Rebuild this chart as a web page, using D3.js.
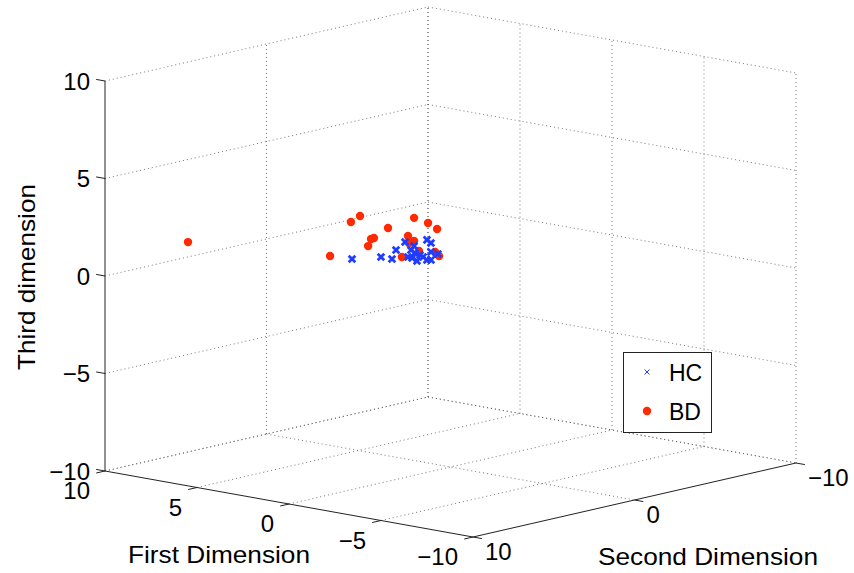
<!DOCTYPE html>
<html><head><meta charset="utf-8">
<script src="https://cdn.jsdelivr.net/npm/d3@7"></script>
<style>body{margin:0;background:#fff;} svg{display:block;} text{font-family:"Liberation Sans",Arial,Helvetica,sans-serif;fill:#000;}</style>
</head><body>
<svg id="c" width="854" height="573"></svg>
<script>
// ---- data ----
const xTicks = [10, 5, 0, -5, -10];
const yTicks = [10, 0, -10];
const zTicks = [-10, -5, 0, 5, 10];
const seriesNames = ["HC", "BD"];
// HC (blue x)
const hcX = [6.23, 3.34, 3.18, 3.40, 2.47, 1.71, 2.37, 2.31, 1.21, 2.70, 1.66, 0.84, 1.50, 1.06, 1.05, 1.72, 1.06, 1.56, 1.98];
const hcY = [-1, 0.5, 0, -0.5, 0, 0.5, -0.5, 0, 1, -1, 0, 0.5, -0.5, 0, 0.5, -0.5, 0, -1, 0];
const hcZ = [-0.58, 0.30, 0.13, 0.46, 1.12, 0.93, 0.48, 0.38, 0.70, -0.08, 0.59, 1.60, 1.14, 0.85, 0.69, 0.23, 0.44, 0.47, 1.00];
// BD (red dots)
const bdX = [9.00, 4.04, 6.29, 1.54, 1.66, 0.73, 2.08, 2.31, 5.04, 3.88, 3.60, 2.42, 4.79, 2.64, 2.59, 0.40, 0.62, 2.26];
const bdY = [6, 1, -1, 0.5, -0.5, 0, 1.5, 0, -1, 0.5, 1, -0.5, 2, 0, -1, 0.5, 0, 0];
const bdZ = [1.15, 2.38, 1.31, 2.61, 2.14, 2.08, 2.19, 1.46, 0.70, 1.13, 0.91, 1.09, 0.39, 0.32, 0.45, 1.05, 0.71, 1.10];

// ---- projection (MATLAB-like 3D view) ----
const O = [105, 471], A = [368, 66], B = [323, -74], H = 390;
const fx = d3.scaleLinear().domain([10, -10]).range([0, 1]);
const fy = d3.scaleLinear().domain([10, -10]).range([0, 1]);
const fz = d3.scaleLinear().domain([-10, 10]).range([0, H]);
function P(x, y, z) {
  const u = fx(x), v = fy(y);
  return [O[0] + u * A[0] + v * B[0], O[1] + u * A[1] + v * B[1] - fz(z)];
}
const svg = d3.select("#c");
const grid = svg.append("g").attr("stroke", "#555").attr("stroke-width", 0.8)
  .attr("stroke-dasharray", "1,3").attr("fill", "none");
function gl(p, q) { grid.append("line").attr("x1", p[0]).attr("y1", p[1]).attr("x2", q[0]).attr("y2", q[1]); }
zTicks.forEach(z => { gl(P(10, 10, z), P(10, -10, z)); gl(P(10, -10, z), P(-10, -10, z)); });
yTicks.forEach(y => {
  if (y !== 10) { gl(P(10, y, -10), P(10, y, 10)); gl(P(10, y, -10), P(-10, y, -10)); }
});
xTicks.forEach(x => {
  gl(P(x, -10, -10), P(x, -10, 10));
  if (x !== -10) gl(P(x, 10, -10), P(x, -10, -10));
});

// axes
const ax = svg.append("g").attr("stroke", "#222").attr("stroke-width", 1);
function al(p, q) { ax.append("line").attr("x1", p[0]).attr("y1", p[1]).attr("x2", q[0]).attr("y2", q[1]); }
al(P(10, 10, -10), P(10, 10, 10));
al(P(10, 10, -10), P(-10, 10, -10));
al(P(-10, 10, -10), P(-10, -10, -10));
const TL = 9;
const an = Math.hypot(A[0], A[1]), bn = Math.hypot(B[0], B[1]);
const ua = [A[0] / an, A[1] / an], ub = [B[0] / bn, B[1] / bn];
const fmt = v => (v < 0 ? "\u2212" + Math.abs(v) : String(v));
const lab = svg.append("g").style("font-size", "24px");
zTicks.forEach(z => {
  const p = P(10, 10, z);
  al(p, [p[0] - ua[0] * TL, p[1] - ua[1] * TL]);
  lab.append("text").attr("x", p[0] - 15).attr("y", p[1] + 8.5).attr("text-anchor", "end").text(fmt(z));
});
xTicks.forEach(x => {
  const p = P(x, 10, -10);
  al(p, [p[0] - ub[0] * TL, p[1] - ub[1] * TL]);
  lab.append("text").attr("x", p[0] - 15).attr("y", p[1] + 28).attr("text-anchor", "end").text(fmt(x));
});
yTicks.forEach(y => {
  const p = P(-10, y, -10);
  al(p, [p[0] + ua[0] * TL, p[1] + ua[1] * TL]);
  lab.append("text").attr("x", p[0] + 12).attr("y", p[1] + 23).attr("text-anchor", "start").text(fmt(y));
});
lab.append("text").attr("x", 219).attr("y", 563).attr("text-anchor", "middle")
  .attr("textLength", 182).attr("lengthAdjust", "spacingAndGlyphs").text("First Dimension");
lab.append("text").attr("x", 708).attr("y", 565).attr("text-anchor", "middle")
  .attr("textLength", 220).attr("lengthAdjust", "spacingAndGlyphs").text("Second Dimension");
lab.append("text").attr("transform", "translate(35,277) rotate(-90)").attr("text-anchor", "middle")
  .attr("textLength", 186).attr("lengthAdjust", "spacingAndGlyphs").text("Third dimension");

// data marks
const red = "#ff2a00", blue = "#1f3cff";
const bd = d3.range(bdX.length).map(i => P(bdX[i], bdY[i], bdZ[i]));
const hc = d3.range(hcX.length).map(i => P(hcX[i], hcY[i], hcZ[i]));
svg.append("g").selectAll("circle").data(bd).join("circle")
  .attr("cx", d => d[0]).attr("cy", d => d[1]).attr("r", 4.2).attr("fill", red);
const s = 3.3;
svg.append("g").attr("stroke", blue).attr("stroke-width", 2.8).selectAll("path").data(hc).join("path")
  .attr("d", d => `M${d[0]-s},${d[1]-s}L${d[0]+s},${d[1]+s}M${d[0]-s},${d[1]+s}L${d[0]+s},${d[1]-s}`);

// legend
const lg = svg.append("g");
lg.append("rect").attr("x", 623.5).attr("y", 352.5).attr("width", 88).attr("height", 80)
  .attr("fill", "#fff").attr("stroke", "#222").attr("stroke-width", 1);
const ls = 2.5;
lg.append("path").attr("d", `M${647-ls},${372-ls}L${647+ls},${372+ls}M${647-ls},${372+ls}L${647+ls},${372-ls}`)
  .attr("stroke", blue).attr("stroke-width", 1);
lg.append("circle").attr("cx", 647).attr("cy", 411).attr("r", 4.2).attr("fill", red);
lg.append("text").attr("x", 669).attr("y", 381).style("font-size", "23px").text(seriesNames[0]);
lg.append("text").attr("x", 669).attr("y", 420).style("font-size", "23px").text(seriesNames[1]);
</script>
</body></html>
